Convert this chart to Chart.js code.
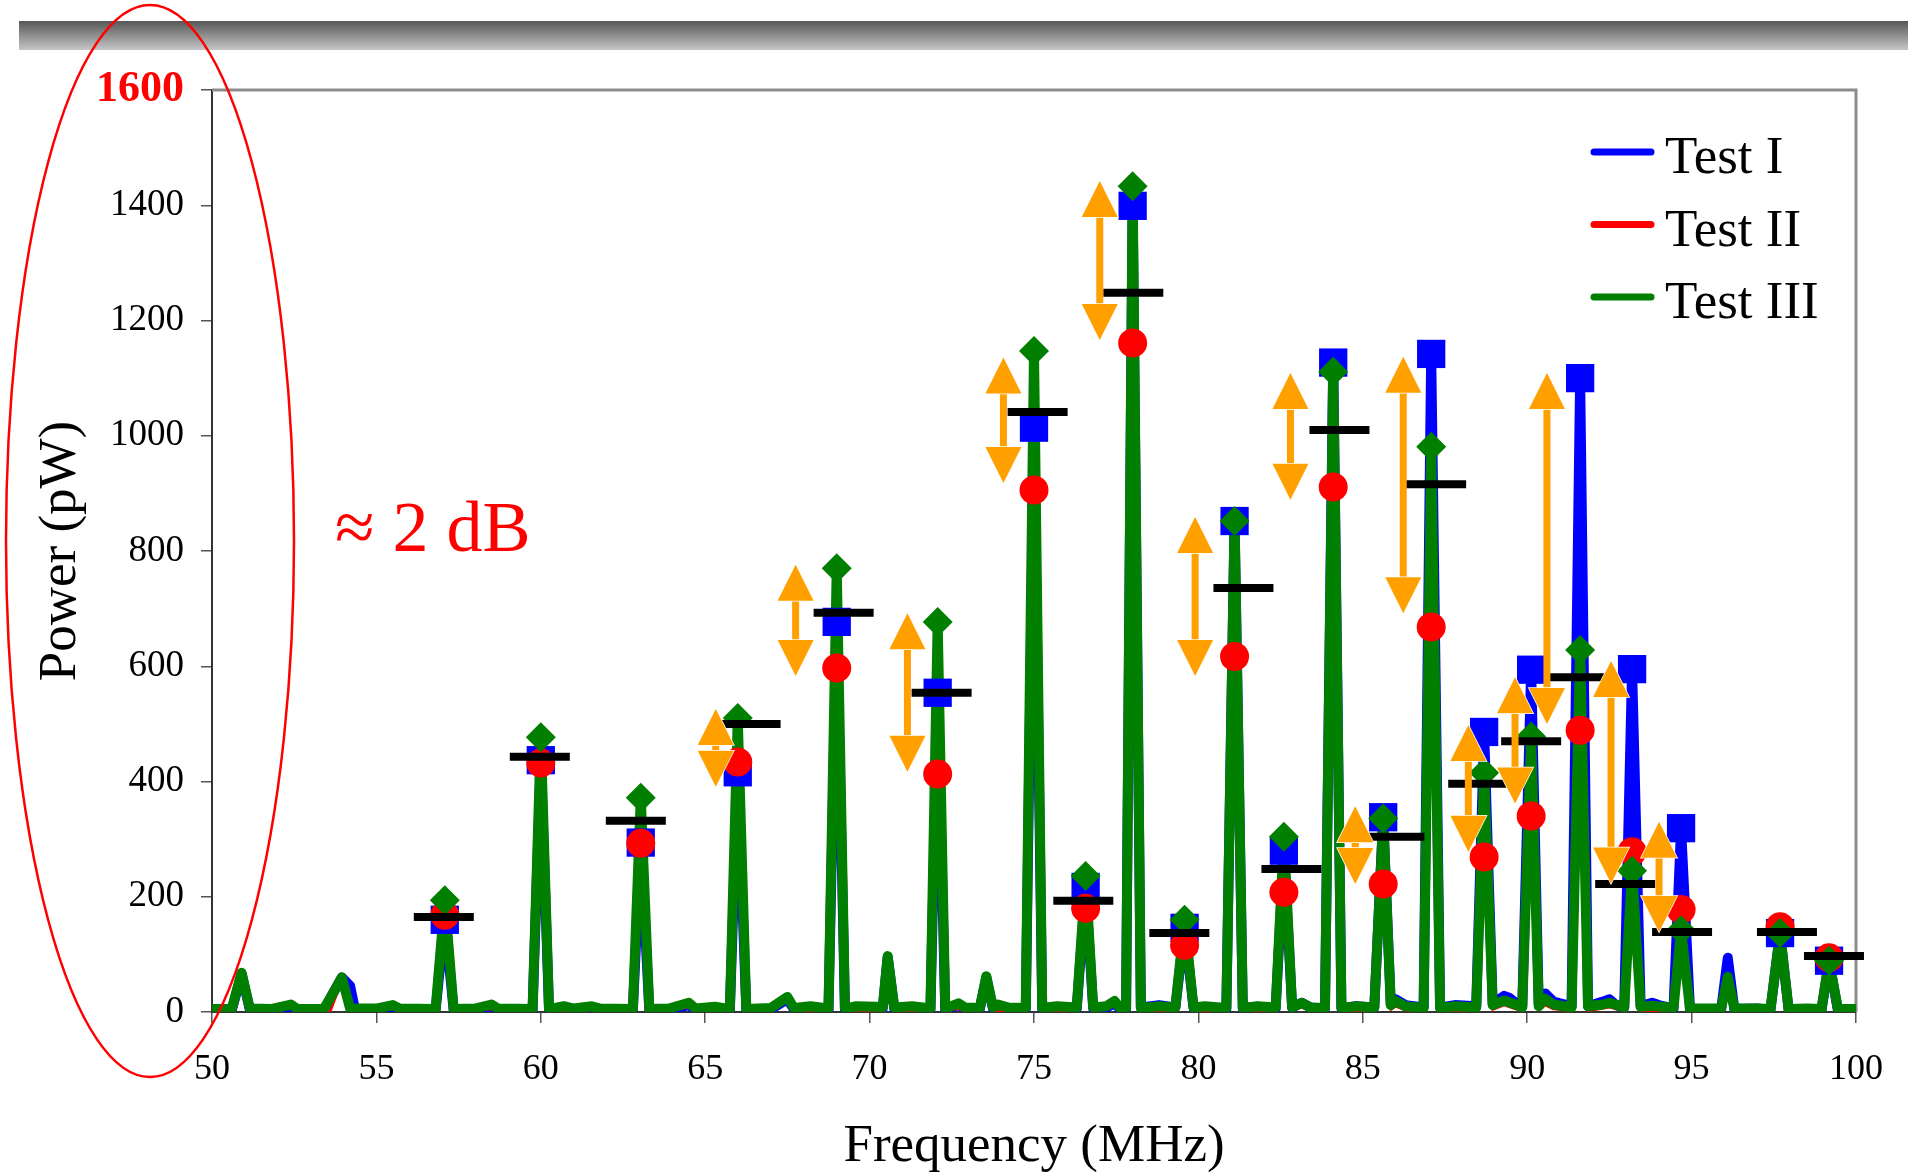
<!DOCTYPE html>
<html lang="en">
<head>
    <meta charset="UTF-8">
    <title>Power vs Frequency</title>
    <script src="https://cdn.jsdelivr.net/npm/chart.js"></script>
    <style>
        body {
            margin: 0;
            background: #fff;
        }
        #chart {
            display: block;
        }
    </style>
</head>
<body>
    <canvas id="chart" width="1908" height="1174"></canvas>

    <script>
        const SERIF = "'Liberation Serif', 'Times New Roman', serif";

        // spectra: [frequency MHz, power pW]
        const test1Spectrum = [
            [50.0,3],[50.6,3],[50.9,66],[51.15,4],[51.8,3],[52.4,10],[52.6,3],[53.4,3],[53.95,60],[54.2,45],[54.35,4],
            [55.0,4],[55.5,9],[55.7,4],[56.8,3],[57.08,160],[57.35,3],[58.0,4],[58.5,10],[58.7,4],[59.75,3],[60.0,437],
            [60.25,3],[60.7,7],[61.0,4],[61.55,7],[61.8,4],[62.8,3],[63.04,294],[63.3,3],[63.9,4],[64.5,12],[64.7,4],
            [65.3,6],[65.75,3],[65.99,416],[66.25,3],[67.0,5],[67.5,22],[67.7,5],[68.2,8],[68.75,4],[69.0,677],[69.25,4],
            [69.6,8],[70.2,7],[70.4,6],[70.55,95],[70.75,6],[71.3,8],[71.85,4],[72.07,554],[72.3,4],[72.7,12],[72.9,6],
            [73.35,5],[73.55,60],[73.75,6],[73.9,11],[74.2,6],[74.75,5],[75.0,1014],[75.25,5],[75.7,8],[76.3,6],[76.57,217],
            [76.8,6],[77.2,8],[77.45,15],[77.6,6],[77.8,5],[78.0,1399],[78.25,8],[78.8,12],[79.3,8],[79.58,146],[79.85,8],
            [80.2,8],[80.85,5],[81.1,852],[81.35,6],[81.8,9],[82.35,6],[82.6,280],[82.85,8],[83.15,16],[83.4,8],[83.85,6],
            [84.1,1127],[84.35,6],[84.8,10],[85.35,8],[85.62,338],[85.85,14],[86.0,22],[86.3,12],[86.85,8],[87.08,1142],
            [87.35,8],[87.8,12],[88.45,10],[88.69,486],[88.95,14],[89.3,28],[89.45,25],[89.6,18],[89.85,10],[90.12,594],
            [90.35,14],[90.55,32],[90.8,18],[91.35,10],[91.61,1100],[91.85,10],[92.3,18],[92.5,22],[92.7,12],[92.95,8],
            [93.19,595],[93.45,10],[93.8,16],[94.0,12],[94.45,6],[94.68,319],[94.95,5],[95.5,4],[95.9,5],[96.1,94],[96.3,5],
            [97.0,6],[97.4,4],[97.69,137],[97.95,4],[98.5,4],[98.95,3],[99.18,89],[99.45,3],[100.0,3]
        ];
        const test2Spectrum = [
            [50.0,1],[50.6,1],[50.9,58],[51.15,1],[52.4,6],[52.6,1],[53.6,1],[53.95,55],[54.25,1],[55.5,5],[55.7,1],
            [56.8,1],[57.08,168],[57.35,1],[58.5,5],[58.7,1],[59.75,1],[60.0,432],[60.25,1],[61.55,4],[61.8,1],[62.8,1],
            [63.04,293],[63.3,1],[64.5,8],[64.7,1],[65.75,1],[65.99,434],[66.25,1],[67.5,18],[67.7,1],[68.75,1],[69.0,597],
            [69.25,1],[70.3,1],[70.55,88],[70.75,1],[71.85,1],[72.07,413],[72.3,1],[72.7,6],[72.9,1],[73.35,1],[73.55,55],
            [73.75,1],[74.75,1],[75.0,906],[75.25,1],[76.3,1],[76.57,180],[76.8,1],[77.45,10],[77.6,1],[77.8,1],[78.0,1161],
            [78.25,1],[79.3,2],[79.58,116],[79.85,2],[80.85,1],[81.1,617],[81.35,1],[82.35,1],[82.6,208],[82.85,3],[83.15,8],
            [83.4,2],[83.85,1],[84.1,911],[84.35,1],[85.35,2],[85.62,222],[85.85,4],[86.0,10],[86.3,3],[86.85,2],[87.08,668],
            [87.35,2],[88.45,2],[88.69,269],[88.95,4],[89.3,12],[89.6,6],[89.85,2],[90.12,340],[90.35,3],[90.55,12],[90.8,5],
            [91.35,2],[91.61,489],[91.85,2],[92.5,8],[92.95,2],[93.19,278],[93.45,2],[94.45,1],[94.68,178],[94.95,1],[95.9,1],
            [96.1,38],[96.3,1],[97.4,1],[97.69,148],[97.95,1],[98.95,1],[99.18,94],[99.45,1],[100.0,1]
        ];
        const test3Spectrum = [
            [50.0,5],[50.6,5],[50.9,68],[51.15,6],[51.8,5],[52.4,13],[52.6,5],[53.4,5],[53.95,60],[54.2,6],[55.0,6],
            [55.5,12],[55.7,6],[56.8,5],[57.08,194],[57.35,5],[58.0,6],[58.5,13],[58.7,6],[59.75,5],[60.0,477],[60.25,5],
            [60.7,10],[61.0,6],[61.55,10],[61.8,6],[62.8,5],[63.04,372],[63.3,5],[63.9,6],[64.5,16],[64.7,6],[65.3,9],
            [65.75,5],[65.99,510],[66.25,5],[67.0,7],[67.5,26],[67.7,7],[68.2,10],[68.75,6],[69.0,770],[69.25,6],[69.6,10],
            [70.2,9],[70.4,8],[70.55,97],[70.75,8],[71.3,10],[71.85,6],[72.07,677],[72.3,6],[72.7,15],[72.9,8],[73.35,7],
            [73.55,62],[73.75,8],[73.9,13],[74.2,8],[74.75,7],[75.0,1147],[75.25,7],[75.7,10],[76.3,8],[76.57,236],[76.8,8],
            [77.2,10],[77.45,19],[77.6,8],[77.8,7],[78.0,1433],[78.25,7],[78.8,10],[79.3,8],[79.58,160],[79.85,8],[80.2,10],
            [80.85,7],[81.1,852],[81.35,7],[81.8,10],[82.35,8],[82.6,304],[82.85,8],[83.15,16],[83.4,8],[83.85,7],[84.1,1111],
            [84.35,7],[84.8,10],[85.35,8],[85.62,336],[85.85,12],[86.0,19],[86.3,10],[86.85,7],[87.08,981],[87.35,7],[87.8,10],
            [88.45,8],[88.69,415],[88.95,12],[89.3,20],[89.6,14],[89.85,8],[90.12,478],[90.35,10],[90.55,23],[90.8,13],
            [91.35,8],[91.61,628],[91.85,10],[92.3,13],[92.5,16],[92.95,8],[93.19,245],[93.45,9],[93.8,11],[94.45,7],
            [94.68,142],[94.95,6],[95.5,6],[95.9,6],[96.1,61],[96.3,6],[97.0,6],[97.4,5],[97.69,137],[97.95,5],[98.5,6],
            [98.95,5],[99.18,89],[99.45,5],[100.0,5]
        ];

        // peak markers
        const peakFreq  = [57.08, 60.0, 63.04, 65.99, 69.0, 72.07, 75.0, 76.57, 78.0, 79.58, 81.1, 82.6, 84.1, 85.62, 87.08, 88.69, 90.12, 91.61, 93.19, 94.68, 97.69, 99.18];
        const peakTest1 = [160, 437, 294, 416, 677, 554, 1014, 217, 1399, 146, 852, 280, 1127, 338, 1142, 486, 594, 1100, 595, 319, 137, 89];
        const peakTest2 = [168, 432, 293, 434, 597, 413, 906, 180, 1161, 116, 617, 208, 911, 222, 668, 269, 340, 489, 278, 178, 148, 94];
        const peakTest3 = [194, 477, 372, 510, 770, 677, 1147, 236, 1433, 160, 852, 304, 1111, 336, 981, 415, 478, 628, 245, 142, 137, 89];

        // black bars
        const midFreq  = [57.05, 59.97, 62.89, 66.38, 69.21, 72.19, 75.11, 76.5, 78.02, 79.42, 81.37, 82.83, 84.29, 85.96, 87.23, 88.51, 90.12, 91.55, 92.98, 94.71, 97.9, 99.33];
        const midPower = [165, 443, 332, 500, 693, 554, 1041, 193, 1248, 137, 736, 248, 1010, 304, 916, 396, 470, 581, 222, 139, 139, 97];

        // orange double arrows (tip to tip)
        const arrowFreq   = [65.32, 67.75, 71.15, 74.07, 77.0, 79.9, 82.8, 84.77, 86.23, 88.21, 89.63, 90.6, 92.55, 94.01];
        const arrowTop    = [526, 776, 692, 1136, 1442, 859, 1109, 357, 1137, 498, 581, 1109, 609, 330];
        const arrowBottom = [391, 583, 417, 918, 1166, 583, 889, 222, 692, 278, 362, 500, 223, 139];

        const seriesNames = ['Test I', 'Test II', 'Test III'];
        const seriesColors = ['#0000FF', '#FF0000', '#007F00'];

        function points(xs, ys) {
            return xs.map((x, i) => ({ x: x, y: ys[i] }));
        }

        // grey banner, frame, arrows, legend and notes
        const decorations = {
            id: 'decorations',
            beforeDraw(chart) {
                const ctx = chart.ctx;
                ctx.save();
                const g = ctx.createLinearGradient(0, 21, 0, 50);
                g.addColorStop(0, '#575757');
                g.addColorStop(1, '#c6c6c6');
                ctx.fillStyle = g;
                ctx.fillRect(19, 21, chart.width - 19, 29);
                ctx.restore();
            },
            beforeDatasetsDraw(chart) {
                const { ctx, chartArea: a } = chart;
                ctx.save();
                ctx.strokeStyle = '#8c8c8c';
                ctx.lineWidth = 3;
                ctx.beginPath();
                ctx.moveTo(a.left, a.top);
                ctx.lineTo(a.right, a.top);
                ctx.lineTo(a.right, a.bottom);
                ctx.stroke();
                ctx.restore();
            },
            afterDatasetsDraw(chart) {
                const { ctx, scales: { x, y } } = chart;
                const head = 36, half = 18, shaft = 7;
                ctx.save();
                ctx.fillStyle = '#FFA000';
                ctx.strokeStyle = '#ffffff';
                ctx.lineWidth = 1.5;
                arrowFreq.forEach((f, i) => {
                    const px = x.getPixelForValue(f);
                    const top = y.getPixelForValue(arrowTop[i]);
                    const bot = y.getPixelForValue(arrowBottom[i]);
                    ctx.fillRect(px - shaft / 2, top + head - 1, shaft, Math.max(0, bot - top - 2 * head + 2));
                    ctx.beginPath();
                    ctx.moveTo(px, top);
                    ctx.lineTo(px + half, top + head);
                    ctx.lineTo(px - half, top + head);
                    ctx.closePath();
                    ctx.stroke();
                    ctx.fill();
                    ctx.beginPath();
                    ctx.moveTo(px, bot);
                    ctx.lineTo(px + half, bot - head);
                    ctx.lineTo(px - half, bot - head);
                    ctx.closePath();
                    ctx.stroke();
                    ctx.fill();
                });
                ctx.restore();
            },
            afterDraw(chart) {
                const ctx = chart.ctx;
                ctx.save();
                // legend
                ctx.font = '53px ' + SERIF;
                ctx.textBaseline = 'alphabetic';
                ctx.lineCap = 'round';
                ctx.lineWidth = 7;
                seriesNames.forEach((name, i) => {
                    const base = 173 + i * 72.5;
                    ctx.strokeStyle = seriesColors[i];
                    ctx.beginPath();
                    ctx.moveTo(1594, base - 21);
                    ctx.lineTo(1651, base - 21);
                    ctx.stroke();
                    ctx.fillStyle = '#000';
                    ctx.fillText(name, 1665, base);
                });
                // note
                ctx.fillStyle = '#FF0000';
                ctx.font = '72px ' + SERIF;
                ctx.fillText('\u2248 2 dB', 335, 551);
                // ellipse around the axis
                ctx.strokeStyle = '#FF0000';
                ctx.lineWidth = 2.5;
                ctx.beginPath();
                ctx.ellipse(150, 541, 144, 536, 0, 0, Math.PI * 2);
                ctx.stroke();
                ctx.restore();
            }
        };

        const lineStyle = {
            type: 'line',
            pointRadius: 0,
            tension: 0,
            borderJoinStyle: 'round',
            borderCapStyle: 'round',
            fill: false
        };
        const markerStyle = {
            type: 'scatter',
            showLine: false,
            borderWidth: 0,
            clip: false
        };

        new Chart(document.getElementById('chart'), {
            data: {
                datasets: [
                    { ...lineStyle, label: 'Test I', data: test1Spectrum, borderColor: seriesColors[0], borderWidth: 10, order: 10 },
                    { ...lineStyle, label: 'Test II', data: test2Spectrum, borderColor: seriesColors[1], borderWidth: 2.5, order: 9 },
                    { ...lineStyle, label: 'Test III', data: test3Spectrum, borderColor: seriesColors[2], borderWidth: 10, order: 8 },
                    { ...markerStyle, label: 'Test I peaks', data: points(peakFreq, peakTest1), pointStyle: 'rect', pointRadius: 20, backgroundColor: '#0000FF', order: 7 },
                    { ...markerStyle, label: 'Test II peaks', data: points(peakFreq, peakTest2), pointStyle: 'circle', pointRadius: 14.5, backgroundColor: '#FF0000', order: 6 },
                    { ...markerStyle, label: 'Test III peaks', data: points(peakFreq, peakTest3), pointStyle: 'rectRot', pointRadius: 15, backgroundColor: '#007F00', order: 5 },
                    { ...markerStyle, label: 'Mean', data: points(midFreq, midPower), pointStyle: 'line', pointRadius: 30, borderWidth: 8, borderColor: '#000', order: 4 }
                ]
            },
            options: {
                responsive: false,
                animation: false,
                events: [],
                layout: { padding: { top: 90, right: 50, left: 0, bottom: 0 } },
                plugins: {
                    legend: { display: false },
                    tooltip: { enabled: false }
                },
                scales: {
                    x: {
                        type: 'linear',
                        min: 50,
                        max: 100,
                        ticks: {
                            stepSize: 5,
                            color: '#000',
                            padding: 25,
                            maxRotation: 0,
                            callback: (v) => String(v),
                            font: { family: SERIF, size: 36, lineHeight: 1.2 }
                        },
                        grid: { drawOnChartArea: false, tickLength: 11, color: '#555', lineWidth: 1.5 },
                        border: { color: '#333', width: 2 },
                        title: {
                            display: true,
                            text: 'Frequency (MHz)',
                            color: '#000',
                            font: { family: SERIF, size: 53, lineHeight: 1 },
                            padding: { top: 0, bottom: 0 }
                        },
                        afterFit(s) { s.height = 162; }
                    },
                    y: {
                        min: 0,
                        max: 1600,
                        ticks: {
                            stepSize: 200,
                            padding: 17,
                            callback: (v) => String(v),
                            color: (c) => c.tick.value === 1600 ? '#FF0000' : '#000',
                            font: (c) => c.tick && c.tick.value === 1600
                                ? { family: SERIF, size: 44, weight: 'bold' }
                                : { family: SERIF, size: 37 }
                        },
                        grid: { drawOnChartArea: false, tickLength: 11, color: '#555', lineWidth: 1.5 },
                        border: { color: '#333', width: 2 },
                        title: {
                            display: true,
                            text: 'Power (pW)',
                            color: '#000',
                            font: { family: SERIF, size: 53, lineHeight: 1 },
                            padding: { top: 35, bottom: 0 }
                        },
                        afterFit(s) { s.width = 212; }
                    }
                }
            },
            plugins: [decorations]
        });
    </script>
</body>
</html>
